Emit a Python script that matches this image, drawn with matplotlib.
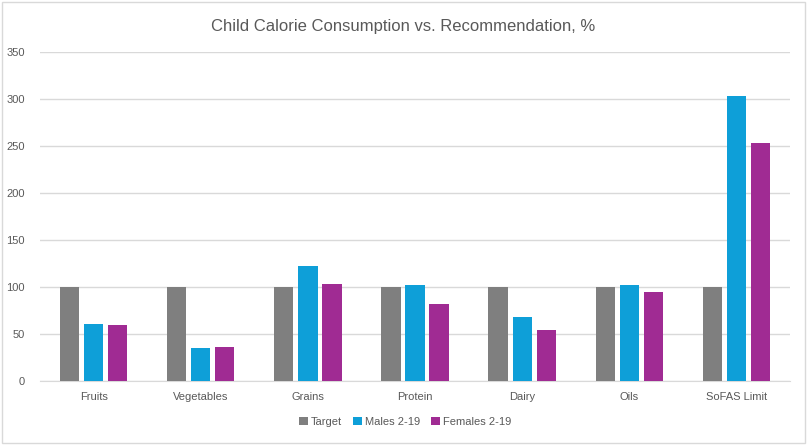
import matplotlib
matplotlib.use("Agg")
import matplotlib.pyplot as plt
import numpy as np
from matplotlib.patches import Rectangle

categories = ["Fruits", "Vegetables", "Grains", "Protein", "Dairy", "Oils", "SoFAS Limit"]
target = [100, 100, 100, 100, 100, 100, 100]
males = [61, 35, 122, 102, 68, 102, 303]
females = [60, 36, 103, 82, 54, 95, 253]
series_names = ["Target", "Males 2-19", "Females 2-19"]
colors = ["#7F7F7F", "#0E9FD8", "#A02B93"]
title = "Child Calorie Consumption vs. Recommendation, %"

plt.rcParams['font.family'] = ['Liberation Sans', 'DejaVu Sans']

fig = plt.figure(figsize=(8.07, 4.45), dpi=100)
ax = fig.add_axes([40/807, 1-381/445, 750/807, (381-52)/445])

x = np.arange(len(categories))
w = 0.18
off = 0.225
for i, (vals, name, c) in enumerate(zip([target, males, females], series_names, colors)):
    ax.bar(x + (i-1)*off, vals, width=w, color=c, label=name, zorder=3)

ax.set_xlim(-0.5, len(categories)-0.5)
ax.set_ylim(0, 350)
ax.set_yticks(np.arange(0, 351, 50))
ax.yaxis.grid(True, color="#D9D9D9", linewidth=1, zorder=0)
for s in ["top", "right", "left"]:
    ax.spines[s].set_visible(False)
ax.spines["bottom"].set_color("#D9D9D9")
ax.tick_params(axis="both", length=0, colors="#595959", labelsize=8)
ax.tick_params(axis="y", pad=11)
ax.tick_params(axis="x", pad=8)
ax.set_xticks(x)
ax.set_xticklabels(categories)

fig.text(0.5, 1-26/445, title, ha="center", va="center", fontsize=12, color="#595959")

leg = fig.legend(loc="center", bbox_to_anchor=(405/807, 1-422/445), ncol=3, frameon=False,
                 fontsize=8, handlelength=0.8, handleheight=0.8, handletextpad=0.25,
                 columnspacing=1.0, labelcolor="#595959")

fig.patches.append(Rectangle((2/807, 2/445), 803/807, 441/445, transform=fig.transFigure,
                             fill=False, edgecolor="#D9D9D9", linewidth=1))

fig.savefig("out.png", dpi=100)
